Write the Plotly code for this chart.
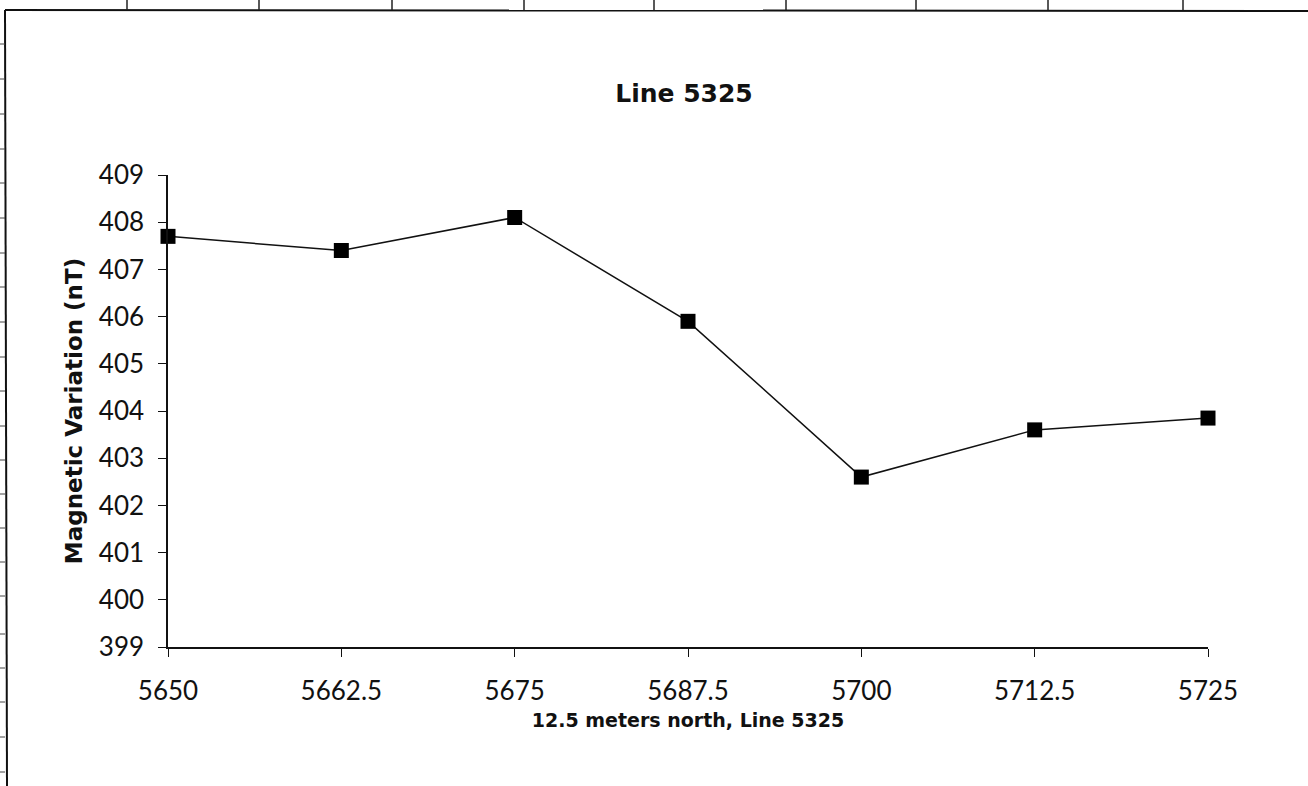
import plotly.graph_objects as go

# Data
positions = [5650, 5662.5, 5675, 5687.5, 5700, 5712.5, 5725]
mag_values = [407.7, 407.4, 408.1, 405.9, 402.6, 403.6, 403.85]
x_tick_vals = [5650, 5662.5, 5675, 5687.5, 5700, 5712.5, 5725]
x_tick_text = ["5650", "5662.5", "5675", "5687.5", "5700", "5712.5", "5725"]
y_tick_vals = [399, 400, 401, 402, 403, 404, 405, 406, 407, 408, 409]

W, H = 1308, 786
L, R, T, B = 168, 100, 175, 139
pw, ph = W - L - R, H - T - B

def px(x):
    return (x - L) / pw

def py(y):
    return (H - B - y) / ph

tick_font = dict(family="Lato, 'DejaVu Sans', sans-serif", size=26, color="#111")
bold_family = "'DejaVu Sans', 'Liberation Sans', sans-serif"

fig = go.Figure()
fig.add_trace(go.Scatter(
    x=positions, y=mag_values, mode="lines+markers",
    line=dict(color="#111", width=1.5),
    marker=dict(symbol="square", size=15, color="#000"),
    showlegend=False, cliponaxis=False,
))

fig.update_layout(
    width=W, height=H,
    margin=dict(l=L, r=R, t=T, b=B),
    paper_bgcolor="white", plot_bgcolor="white",
    title=dict(text="<b>Line 5325</b>", x=684 / W, xanchor="center", y=1 - 93 / H, yanchor="middle",
               font=dict(family=bold_family, size=25, color="#111")),
    xaxis=dict(range=[5650, 5725], tickvals=x_tick_vals, ticktext=x_tick_text,
               showline=True, linecolor="#111", linewidth=1.5, ticks="outside", ticklen=8,
               tickcolor="#111", tickwidth=1.2, showgrid=False, zeroline=False,
               tickfont=tick_font, ticklabelstandoff=12,
               title=dict(text="<b>12.5 meters north, Line 5325</b>",
                          font=dict(family=bold_family, size=19, color="#111"), standoff=9)),
    yaxis=dict(range=[399, 409], tickvals=y_tick_vals,
               showline=True, linecolor="#111", linewidth=1.5, ticks="outside", ticklen=8,
               tickcolor="#111", tickwidth=1.2, showgrid=False, zeroline=False,
               tickfont=tick_font, ticklabelstandoff=9,
               title=dict(text="<b>Magnetic Variation (nT)</b>",
                          font=dict(family=bold_family, size=23, color="#111"), standoff=10)),
)

# Scanned page border (decorative)
shapes = []
line_style = dict(color="#111", width=2)
shapes.append(dict(type="line", xref="paper", yref="paper", x0=px(5), y0=py(10), x1=px(1308), y1=py(11), line=line_style))
shapes.append(dict(type="line", xref="paper", yref="paper", x0=px(5), y0=py(10), x1=px(7), y1=py(786), line=line_style))
for xv in [127, 259, 392, 524, 654, 786, 916, 1048, 1183]:
    shapes.append(dict(type="line", xref="paper", yref="paper", x0=px(xv), y0=py(0), x1=px(xv), y1=py(10),
                       line=dict(color="#222", width=1.5)))
for yv in [44, 79, 114, 149, 183, 218, 253, 287, 322, 357, 391, 426, 460, 494, 528, 562, 596, 634, 668, 702, 737, 772]:
    shapes.append(dict(type="line", xref="paper", yref="paper", x0=px(0), y0=py(yv), x1=px(5), y1=py(yv),
                       line=dict(color="#444", width=1)))
fig.update_layout(shapes=shapes)

fig.write_html("out.html", config={"displayModeBar": False},
               post_script="document.body.style.margin='0';document.body.style.overflow='hidden';")
